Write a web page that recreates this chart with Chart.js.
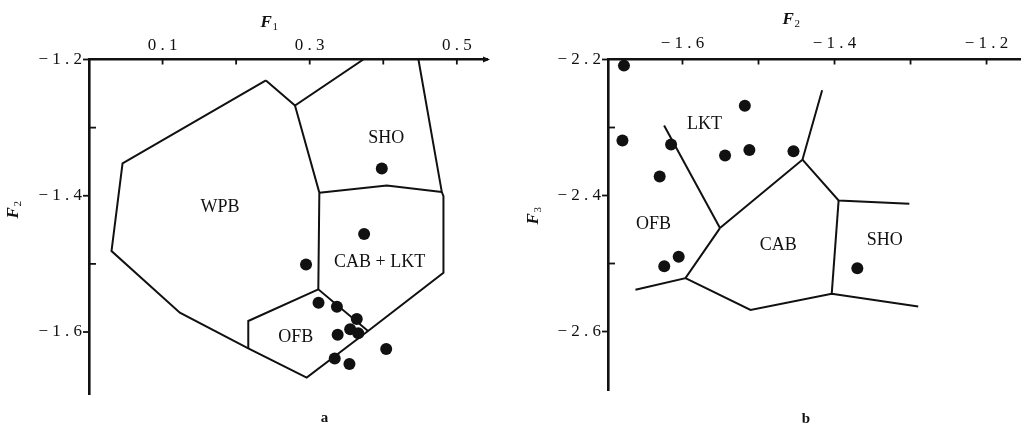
<!DOCTYPE html>
<html>
<head>
<meta charset="utf-8">
<script src="https://cdn.jsdelivr.net/npm/chart.js@4.4.0/dist/chart.umd.min.js"></script>
<style>
  html, body { margin: 0; padding: 0; background: #fff; }
  #wrap { position: relative; width: 1026px; height: 431px; overflow: hidden; background: #fff; }
  canvas { position: absolute; top: 0; }
  #chartA { left: 0; }
  #chartB { left: 510px; }
</style>
</head>
<body>
<div id="wrap">
  <canvas id="chartA" width="510" height="431"></canvas>
  <canvas id="chartB" width="516" height="431"></canvas>
</div>
<script>
// ---- panel a : F1 / F2 ----
const aXTicks = [0.1, 0.2, 0.3, 0.4, 0.5];
const aXLabels = ['0.1', '', '0.3', '', '0.5'];
const aYTicks = [-1.2, -1.3, -1.4, -1.5, -1.6];
const aYLabels = ['-1.2', '', '-1.4', '', '-1.6'];

// samples
const aSamples = [
  [0.398, -1.360], [0.374, -1.456], [0.295, -1.501], [0.312, -1.557],
  [0.337, -1.563], [0.364, -1.581], [0.338, -1.604], [0.355, -1.596],
  [0.366, -1.602], [0.404, -1.625], [0.334, -1.639], [0.354, -1.647]
];

// field boundaries
const aOuter = [
  [0.2405, -1.2308], [0.0456, -1.3525], [0.0306, -1.4812], [0.1235, -1.5716],
  [0.2165, -1.6239], [0.2959, -1.6669], [0.3793, -1.5985], [0.4818, -1.5129],
  [0.4818, -1.4005], [0.4796, -1.3946], [0.4478, -1.2]
];
const aTop = [[0.2405, -1.2308], [0.28, -1.2675], [0.3729, -1.2]];
const aWpbRight = [[0.28, -1.2675], [0.3131, -1.3956], [0.3117, -1.5374]];
const aShoBase = [[0.3131, -1.3956], [0.4048, -1.3848], [0.4796, -1.3946]];
const aOfb = [[0.2165, -1.6239], [0.2165, -1.5838], [0.3117, -1.5374], [0.3793, -1.5985]];

const aFieldNames = ['WPB', 'SHO', 'CAB + LKT', 'OFB'];
const aFieldX = [0.178, 0.404, 0.395, 0.281];
const aFieldY = [-1.4175, -1.315, -1.498, -1.608];

// ---- panel b : F2 / F3 ----
const bXTicks = [-1.6, -1.5, -1.4, -1.3, -1.2];
const bXLabels = ['-1.6', '', '-1.4', '', '-1.2'];
const bYTicks = [-2.2, -2.3, -2.4, -2.5, -2.6];
const bYLabels = ['-2.2', '', '-2.4', '', '-2.6'];

const bSamples = [
  [-1.677, -2.209], [-1.679, -2.319], [-1.615, -2.325], [-1.630, -2.372],
  [-1.518, -2.268], [-1.544, -2.341], [-1.512, -2.333], [-1.454, -2.335],
  [-1.605, -2.490], [-1.624, -2.504], [-1.370, -2.507]
];

const bLktOfb = [[-1.6242, -2.2972], [-1.5507, -2.4479]];
const bOfbCab = [[-1.5507, -2.4479], [-1.5961, -2.5215], [-1.6619, -2.5387]];
const bLktCab = [[-1.5507, -2.4479], [-1.4422, -2.3473], [-1.4163, -2.2452]];
const bShoTop = [[-1.4422, -2.3473], [-1.3946, -2.4072], [-1.3016, -2.4121]];
const bShoLeft = [[-1.3946, -2.4072], [-1.4037, -2.5446]];
const bBottom = [[-1.5961, -2.5215], [-1.5105, -2.5682], [-1.4037, -2.5446], [-1.2899, -2.5633]];

const bFieldNames = ['LKT', 'OFB', 'CAB', 'SHO'];
const bFieldX = [-1.571, -1.638, -1.474, -1.334];
const bFieldY = [-2.2957, -2.443, -2.4725, -2.466];

const INK = '#111';
const SERIF = '"Liberation Serif", "DejaVu Serif", serif';

function fmt(s) {
  if (!s) return '';
  return s.replace('-', '\u2212 ').replace('.', ' . ');
}

function pts(arr) {
  return arr.map(p => ({ x: p[0], y: p[1] }));
}

function lineSet(arr) {
  return {
    data: pts(arr),
    showLine: true,
    borderColor: INK,
    borderWidth: 2,
    pointRadius: 0,
    tension: 0,
    fill: false
  };
}

// inward ticks, region names, axis titles, caption
function decor(cfg) {
  return {
    id: 'decor',
    afterDraw(chart) {
      const { ctx, chartArea: area, scales: { x, y } } = chart;
      ctx.save();
      ctx.strokeStyle = INK;
      ctx.fillStyle = INK;
      ctx.lineWidth = 1.8;

      cfg.xTicks.forEach(v => {
        const px = x.getPixelForValue(v);
        ctx.beginPath();
        ctx.moveTo(px, area.top);
        ctx.lineTo(px, area.top + 5);
        ctx.stroke();
      });
      cfg.yTicks.forEach((v, i) => {
        const py = y.getPixelForValue(v);
        const len = cfg.yLabels[i] ? -6 : 7;
        ctx.beginPath();
        ctx.moveTo(area.left, py);
        ctx.lineTo(area.left + len, py);
        ctx.stroke();
      });

      if (cfg.arrow) {
        ctx.beginPath();
        ctx.moveTo(area.right + 3, area.top);
        ctx.lineTo(area.right - 4, area.top - 3);
        ctx.lineTo(area.right - 4, area.top + 3);
        ctx.closePath();
        ctx.fill();
      }

      ctx.font = '18px ' + SERIF;
      ctx.textAlign = 'center';
      ctx.textBaseline = 'middle';
      cfg.names.forEach((n, i) => {
        ctx.fillText(n, x.getPixelForValue(cfg.nx[i]), y.getPixelForValue(cfg.ny[i]));
      });

      drawTitle(ctx, cfg.xTitle[0], cfg.xTitle[1], cfg.xTitlePos[0], cfg.xTitlePos[1], false);
      drawTitle(ctx, cfg.yTitle[0], cfg.yTitle[1], cfg.yTitlePos[0], cfg.yTitlePos[1], true);

      ctx.font = 'bold 15px ' + SERIF;
      ctx.textAlign = 'center';
      ctx.textBaseline = 'middle';
      ctx.fillText(cfg.caption, cfg.captionPos[0], cfg.captionPos[1]);
      ctx.restore();
    }
  };
}

function drawTitle(ctx, main, sub, cx, cy, rotate) {
  ctx.save();
  ctx.translate(cx, cy);
  if (rotate) ctx.rotate(-Math.PI / 2);
  ctx.textAlign = 'left';
  ctx.textBaseline = 'middle';
  ctx.font = 'italic bold 17px ' + SERIF;
  const w = ctx.measureText(main).width;
  ctx.font = '11px ' + SERIF;
  const ws = ctx.measureText(sub).width;
  const start = -(w + ws) / 2;
  ctx.font = 'italic bold 17px ' + SERIF;
  ctx.fillText(main, start, 0);
  ctx.font = '11px ' + SERIF;
  ctx.fillText(sub, start + w + 0.5, 4);
  ctx.restore();
}

function makeChart(id, o) {
  return new Chart(document.getElementById(id), {
    type: 'scatter',
    data: {
      datasets: [
        {
          data: pts(o.samples),
          pointRadius: 6,
          pointBackgroundColor: INK,
          pointBorderWidth: 0
        }
      ].concat(o.lines.map(lineSet))
    },
    options: {
      responsive: false,
      animation: false,
      layout: { padding: o.padding },
      plugins: { legend: { display: false }, tooltip: { enabled: false } },
      scales: {
        x: {
          type: 'linear',
          position: 'top',
          min: o.xMin,
          max: o.xMax,
          afterBuildTicks: s => { s.ticks = o.xTicks.map(v => ({ value: v })); },
          afterFit: s => { s.height = 59.5; s.paddingLeft = 0; s.paddingRight = 0; },
          grid: { drawOnChartArea: false, drawTicks: false },
          border: { display: true, color: INK, width: 2.6 },
          ticks: {
            autoSkip: false,
            maxRotation: 0,
            padding: o.xPad,
            color: INK,
            font: { family: SERIF, size: 17 },
            callback: (v, i) => fmt(o.xLabels[i])
          }
        },
        y: {
          type: 'linear',
          position: 'left',
          min: o.yMin,
          max: o.yMax,
          afterBuildTicks: s => { s.ticks = o.yTicks.map(v => ({ value: v })); },
          afterFit: s => { s.width = o.yWidth; s.paddingTop = 0; s.paddingBottom = 0; },
          grid: { drawOnChartArea: false, drawTicks: false },
          border: { display: true, color: INK, width: 2.6 },
          ticks: {
            autoSkip: false,
            padding: 7,
            color: INK,
            font: { family: SERIF, size: 17 },
            callback: (v, i) => fmt(o.yLabels[i])
          }
        }
      }
    },
    plugins: [decor(o.decor)]
  });
}

makeChart('chartA', {
  samples: aSamples,
  lines: [aOuter, aTop, aWpbRight, aShoBase, aOfb],
  padding: { left: 0, top: 0, right: 23, bottom: 37 },
  xMin: 0, xMax: 0.541, yMin: -1.691, yMax: -1.2,
  xTicks: aXTicks, xLabels: aXLabels, yTicks: aYTicks, yLabels: aYLabels,
  xPad: 4, yWidth: 89,
  decor: {
    xTicks: aXTicks, yTicks: aYTicks, yLabels: aYLabels, arrow: true,
    names: aFieldNames, nx: aFieldX, ny: aFieldY,
    xTitle: ['F', '1'], xTitlePos: [269, 23],
    yTitle: ['F', '2'], yTitlePos: [14, 210],
    caption: 'a', captionPos: [324.5, 418]
  }
});

makeChart('chartB', {
  samples: bSamples,
  lines: [bLktOfb, bOfbCab, bLktCab, bShoTop, bShoLeft, bBottom],
  padding: { left: 0, top: 0, right: 1, bottom: 41 },
  xMin: -1.698, xMax: -1.156, yMin: -2.686, yMax: -2.2,
  xTicks: bXTicks, xLabels: bXLabels, yTicks: bYTicks, yLabels: bYLabels,
  xPad: 6, yWidth: 98,
  decor: {
    xTicks: bXTicks, yTicks: bYTicks, yLabels: bYLabels, arrow: false,
    names: bFieldNames, nx: bFieldX, ny: bFieldY,
    xTitle: ['F', '2'], xTitlePos: [281, 20],
    yTitle: ['F', '3'], yTitlePos: [24, 216],
    caption: 'b', captionPos: [296, 419]
  }
});
</script>
</body>
</html>
